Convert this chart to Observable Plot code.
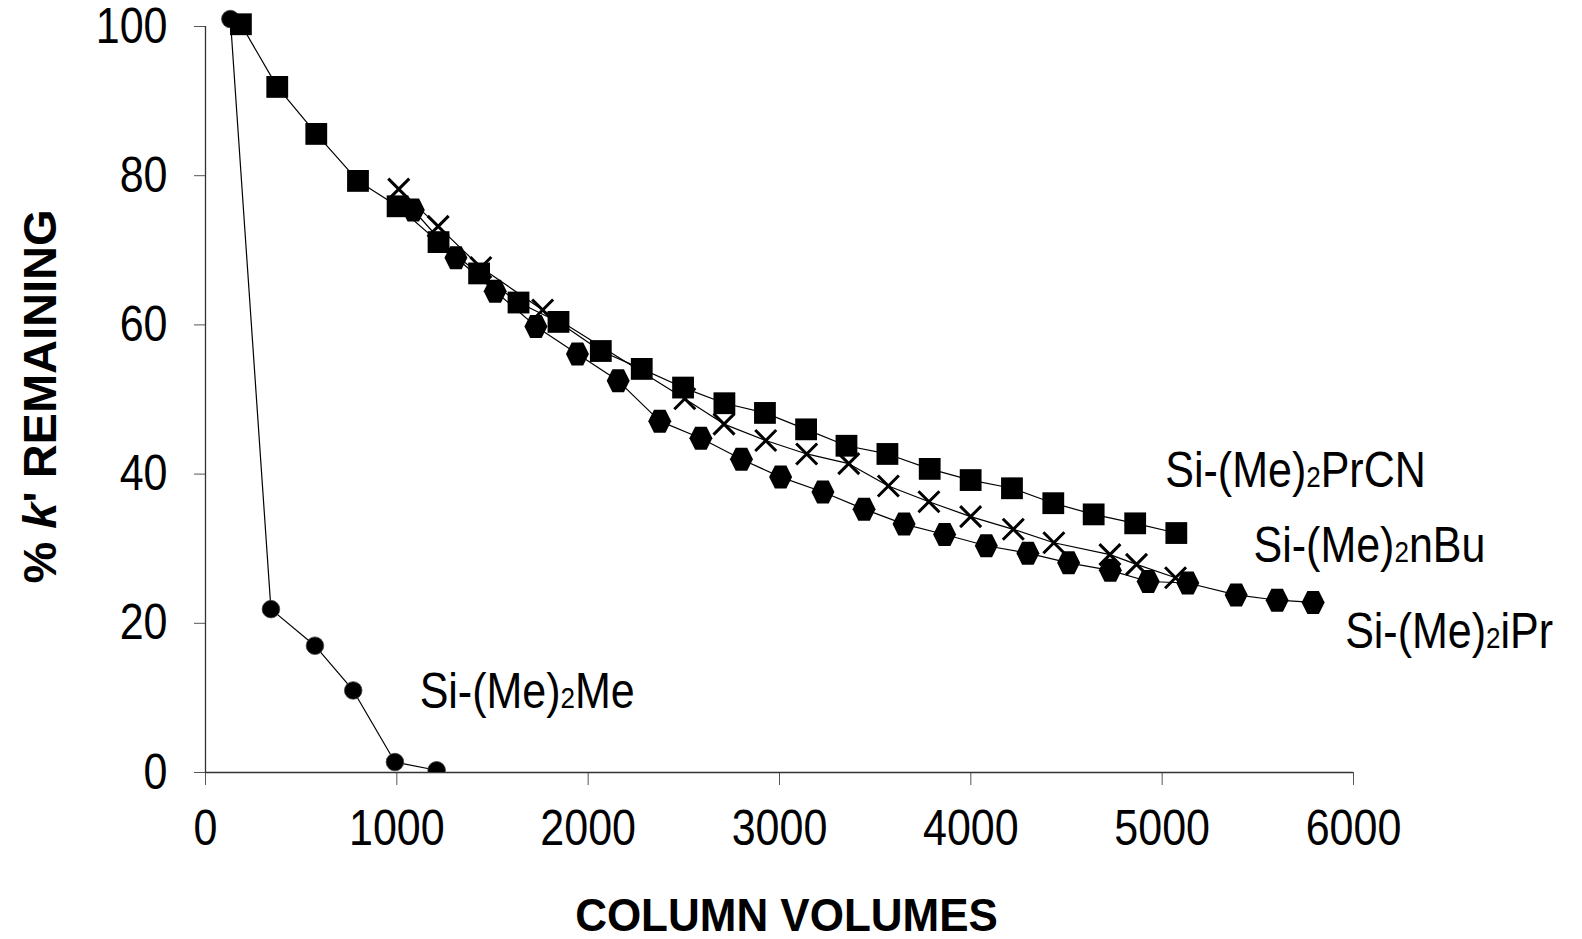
<!DOCTYPE html>
<html><head><meta charset="utf-8">
<script src="https://cdn.jsdelivr.net/npm/d3@7"></script>
<script src="https://cdn.jsdelivr.net/npm/@observablehq/plot@0.6"></script>
<style>body{margin:0;background:#fff}</style>
</head><body><div id="chart"></div>
<script>
const xTicks = [0, 1000, 2000, 3000, 4000, 5000, 6000];
const yTicks = [0, 20, 40, 60, 80, 100];
const seriesNames = ["Si-(Me)2PrCN", "Si-(Me)2nBu", "Si-(Me)2iPr", "Si-(Me)2Me"];
const xTitle = "COLUMN VOLUMES";
const yTitle = "% k' REMAINING";

// Si-(Me)2PrCN (squares)
const prcnX = [185, 375, 579, 797, 1004, 1218, 1430, 1636, 1845, 2066, 2280, 2496, 2712, 2924, 3139, 3350, 3564, 3785, 3999, 4215, 4431, 4642, 4859, 5074];
const prcnY = [100.3, 91.9, 85.6, 79.3, 75.9, 71.1, 66.9, 63.0, 60.4, 56.5, 54.1, 51.6, 49.5, 48.2, 46.0, 43.8, 42.7, 40.7, 39.2, 38.1, 36.1, 34.6, 33.4, 32.1];
// Si-(Me)2nBu (crosses)
const nbuX = [1010, 1216, 1439, 1762, 2505, 2710, 2928, 3142, 3362, 3569, 3781, 3999, 4222, 4434, 4727, 4866, 5070];
const nbuY = [78.2, 73.2, 67.7, 62.0, 50.1, 46.7, 44.5, 42.7, 41.4, 38.4, 36.3, 34.3, 32.6, 30.8, 29.2, 27.9, 26.1];
// Si-(Me)2iPr (hexagons)
const iprX = [1086, 1309, 1514, 1727, 1944, 2157, 2374, 2589, 2801, 3006, 3227, 3442, 3651, 3863, 4081, 4298, 4511, 4729, 4927, 5134, 5387, 5601, 5789];
const iprY = [75.4, 69.0, 64.5, 59.8, 56.1, 52.5, 47.1, 44.8, 42.0, 39.6, 37.6, 35.3, 33.3, 31.9, 30.4, 29.4, 28.1, 27.1, 25.6, 25.4, 23.8, 23.1, 22.8];
// Si-(Me)2Me (circles)
const meX = [130, 342, 572, 772, 990, 1208];
const meY = [101.0, 21.9, 17.0, 11.0, 1.4, 0.3];

const squareSym = {draw(ctx, size) {const r = Math.sqrt(size / Math.PI); ctx.rect(-r, -r, 2 * r, 2 * r);}};
const hexSym = {draw(ctx, size) {const r = Math.sqrt(size / Math.PI);
  ctx.moveTo(r, 0); ctx.lineTo(r / 2, r); ctx.lineTo(-r / 2, r); ctx.lineTo(-r, 0); ctx.lineTo(-r / 2, -r); ctx.lineTo(r / 2, -r); ctx.closePath();}};
const crossSym = {draw(ctx, size) {const r = Math.sqrt(size / Math.PI);
  ctx.moveTo(-r, -r); ctx.lineTo(r, r); ctx.moveTo(-r, r); ctx.lineTo(r, -r);}};

const idx = a => d3.range(a.length);
const lineOf = (X, Y) => Plot.line(idx(X), {x: i => X[i], y: i => Y[i], stroke: "black", strokeWidth: 1.2});
const lastLabel = (name, X, Y, dx, dy) => Plot.text([name], {x: [X[X.length - 1]], y: [Y[Y.length - 1]], dx, dy, textAnchor: "start", lineAnchor: "bottom", fontSize: 43, fill: "black"});

const chart = Plot.plot({
  width: 1582, height: 939,
  marginLeft: 205, marginRight: 229, marginTop: 26, marginBottom: 167,
  style: {fontFamily: "'Liberation Sans', Arial, sans-serif", fontSize: "43px", color: "black", background: "white", overflow: "visible"},
  x: {domain: [0, 6000], ticks: xTicks, tickSize: 13, tickPadding: 27, tickFormat: d3.format("d"), label: null},
  y: {domain: [0, 100], ticks: yTicks, tickSize: 11, tickPadding: 27, tickFormat: d3.format("d"), label: null},
  marks: [
    Plot.ruleY([0], {stroke: "#333", strokeWidth: 1.3}),
    Plot.ruleX([0], {stroke: "#333", strokeWidth: 1.3}),
    lineOf(meX, meY),
    Plot.dot(idx(meX), {x: i => meX[i], y: i => meY[i], filter: i => meY[i] < 100, clip: true, r: 8.8, fill: "black", stroke: "#444", strokeWidth: 0.8}),
    Plot.dot(idx(meX), {x: i => meX[i], y: i => meY[i], filter: i => meY[i] >= 100, r: 8.8, fill: "black", stroke: "#444", strokeWidth: 0.8}),
    lineOf(nbuX, nbuY),
    Plot.dot(idx(nbuX), {x: i => nbuX[i], y: i => nbuY[i], symbol: crossSym, r: 10.5, stroke: "black", strokeWidth: 3, fill: "none"}),
    lineOf(iprX, iprY),
    Plot.dot(idx(iprX), {x: i => iprX[i], y: i => iprY[i], symbol: hexSym, r: 11.5, fill: "black"}),
    lineOf(prcnX, prcnY),
    Plot.dot(idx(prcnX), {x: i => prcnX[i], y: i => prcnY[i], symbol: squareSym, r: 10.9, fill: "black"}),
    lastLabel(seriesNames[0], prcnX, prcnY, -11, -48),
    lastLabel(seriesNames[1], nbuX, nbuY, 78, -18),
    lastLabel(seriesNames[2], iprX, iprY, 32, 43),
    lastLabel(seriesNames[3], meX, meY, -17, -65),
    Plot.text([xTitle], {frameAnchor: "bottom", dx: 7, dy: 157, lineAnchor: "bottom", fontSize: 44, fontWeight: "bold", fill: "black"}),
    Plot.text([yTitle], {frameAnchor: "left", rotate: -90, dx: -165, dy: -3, lineAnchor: "middle", textAnchor: "middle", fontSize: 47, fontWeight: "bold", fill: "black"})
  ]
});
document.getElementById("chart").append(chart);

const svg = d3.select(chart);
svg.selectAll('g[aria-label$="tick"]').style("stroke", "#555");

function stretch(el, k) {
  const b = el.getBBox();
  const cy = b.y + b.height / 2;
  const old = el.getAttribute("transform") || "";
  el.setAttribute("transform", `${old} translate(0 ${cy}) scale(1 ${k}) translate(0 ${-cy})`);
}
svg.selectAll("text").each(function() {
  const t = this.textContent;
  if (t.startsWith("Si-(Me)2")) {
    this.innerHTML = "Si-(Me)<tspan font-size='26'>2</tspan>" + t.slice(8);
  } else if (t === yTitle) {
    this.innerHTML = "% <tspan font-style='italic'>k</tspan>' REMAINING";
  }
});
svg.selectAll("text").each(function() {
  const t = this.textContent;
  if (t.indexOf("REMAINING") >= 0) return;
  if (t === xTitle) stretch(this, 1.07);
  else stretch(this, 1.16);
});
</script>
</body></html>
